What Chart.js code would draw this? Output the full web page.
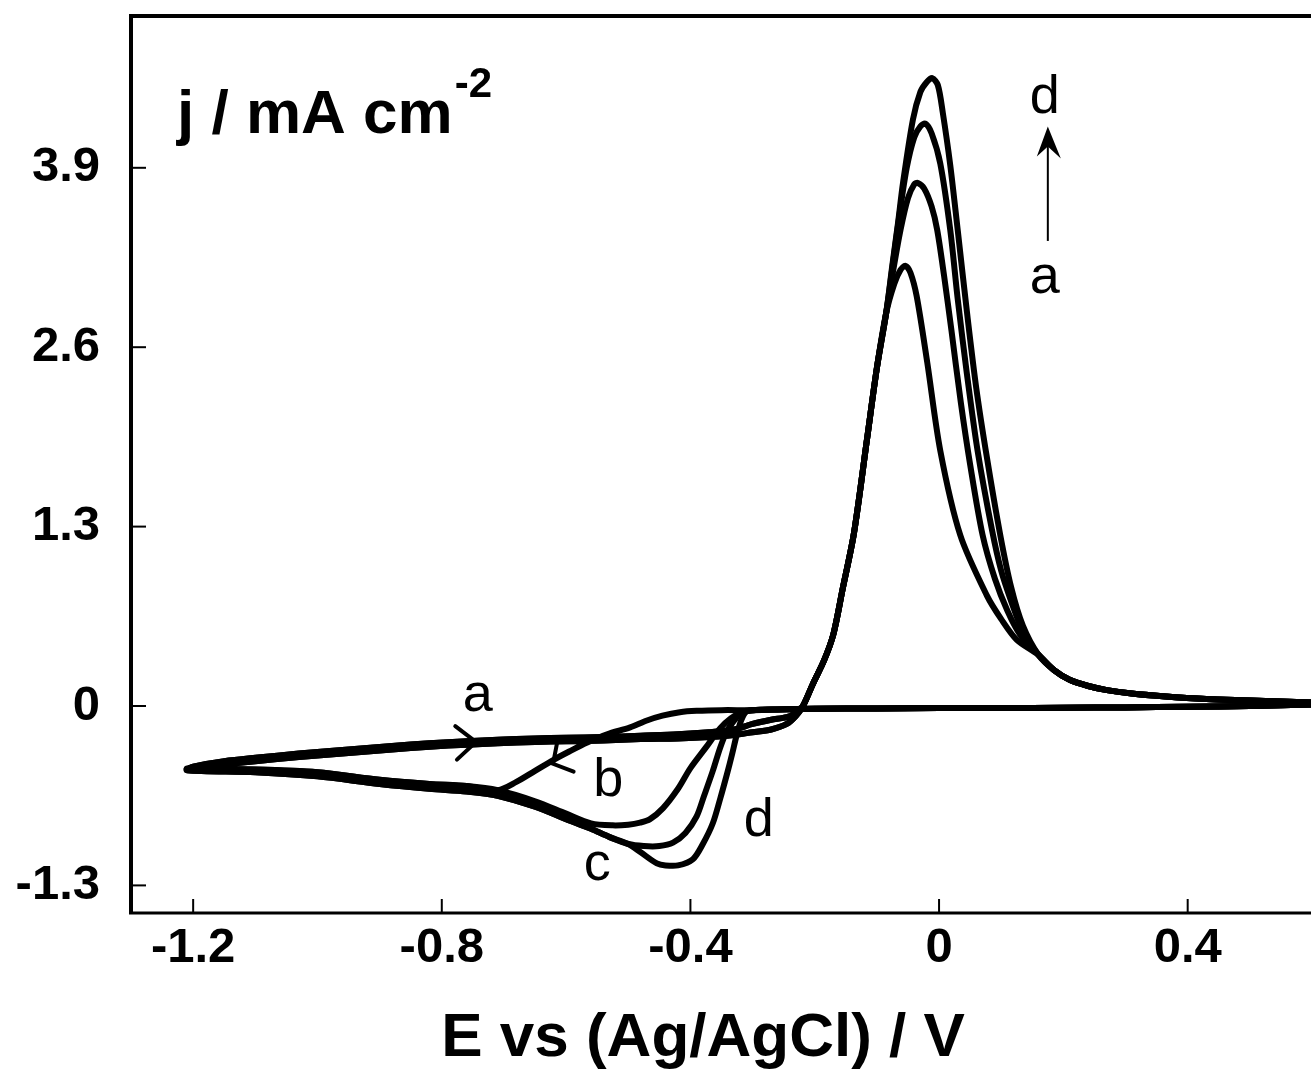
<!DOCTYPE html>
<html>
<head>
<meta charset="utf-8">
<title>Cyclic voltammograms</title>
<script src="https://cdn.jsdelivr.net/npm/chart.js@4.4.1/dist/chart.umd.min.js"></script>
<style>
  html, body { margin: 0; padding: 0; background: #fff; overflow: hidden; }
  canvas { display: block; }
</style>
</head>
<body>
<canvas id="cvChart" width="1320" height="1072"></canvas>
<script>
// axis ticks
const xTickValues = [-1.2, -0.8, -0.4, 0, 0.4];
const xTickLabels = ['-1.2', '-0.8', '-0.4', '0', '0.4'];
const yTickValues = [-1.3, 0, 1.3, 2.6, 3.9];
const yTickLabels = ['-1.3', '0', '1.3', '2.6', '3.9'];

// cathodic sweep from +0.6 V, shared by all cycles
const baseE = [0.6, 0.5, 0.4, 0.3, 0.2, 0.1, 0.0, -0.1, -0.2, -0.26, -0.3];
const baseJ = [0.01, 0.0, -0.005, -0.01, -0.012, -0.015, -0.015, -0.018, -0.02, -0.025, -0.03];

// cathodic branch of each cycle after the baseline
const cathAE = [-0.35, -0.39, -0.417, -0.445, -0.47, -0.497, -0.534, -0.566, -0.595, -0.62, -0.65, -0.68];
const cathAJ = [-0.03, -0.035, -0.045, -0.07, -0.105, -0.155, -0.205, -0.265, -0.33, -0.39, -0.47, -0.55];
const cathBE = [-0.32, -0.335, -0.352, -0.375, -0.40, -0.42, -0.444, -0.465, -0.481, -0.50, -0.525];
const cathBJ = [-0.05, -0.09, -0.16, -0.30, -0.45, -0.60, -0.74, -0.82, -0.845, -0.86, -0.865];
const cathCE = [-0.315, -0.325, -0.341, -0.352, -0.364, -0.378, -0.39, -0.408, -0.428, -0.45, -0.475];
const cathCJ = [-0.04, -0.08, -0.18, -0.30, -0.47, -0.65, -0.80, -0.92, -0.99, -1.015, -1.015];
const cathDE = [-0.31, -0.318, -0.325, -0.333, -0.341, -0.352, -0.364, -0.38, -0.396, -0.42, -0.44];
const cathDJ = [-0.04, -0.10, -0.20, -0.35, -0.49, -0.67, -0.85, -1.00, -1.11, -1.155, -1.155];

// diffusion tail of the cathodic sweep down to -1.2 V
const lowerE  = [-0.454, -0.48, -0.50, -0.53, -0.56, -0.60, -0.65, -0.71, -0.76, -0.82, -0.90, -1.00, -1.10, -1.21];
const lowerJ1 = [-1.10, -1.02, -0.96, -0.90, -0.85, -0.78, -0.69, -0.61, -0.58, -0.565, -0.535, -0.48, -0.46, -0.455];
const lowerJ2 = [-1.14, -1.06, -1.00, -0.95, -0.89, -0.82, -0.73, -0.65, -0.62, -0.60, -0.565, -0.51, -0.48, -0.465];

// anodic return sweep
const upperE  = [-1.2, -1.15, -1.1, -1.03, -0.95, -0.88, -0.82, -0.76, -0.71, -0.65, -0.6, -0.54, -0.48, -0.42, -0.37, -0.33];
const upperJ1 = [-0.45, -0.425, -0.40, -0.37, -0.34, -0.315, -0.295, -0.28, -0.27, -0.26, -0.255, -0.25, -0.24, -0.235, -0.225, -0.21];
const upperJ2 = [-0.44, -0.40, -0.375, -0.345, -0.315, -0.29, -0.27, -0.255, -0.245, -0.235, -0.23, -0.225, -0.215, -0.205, -0.19, -0.17];
const lensE  = [-0.30, -0.27, -0.245, -0.23, -0.219];
const lensJ1 = [-0.19, -0.17, -0.13, -0.07, 0.0];
const lensJ2 = [-0.13, -0.10, -0.08, -0.05, 0.0];

// stripping peak: shared rise, then one peak per cycle
const riseE = [-0.203, -0.185, -0.17, -0.155, -0.137, -0.116, -0.1, -0.085];
const riseJ = [0.16, 0.33, 0.52, 0.85, 1.25, 1.93, 2.45, 2.85];
const peakAE = [-0.072, -0.062, -0.054, -0.046, -0.036, -0.019, 0.002, 0.034, 0.077, 0.10, 0.125];
const peakAJ = [3.06, 3.16, 3.19, 3.14, 2.97, 2.49, 1.85, 1.24, 0.80, 0.63, 0.48];
const peakBE = [-0.074, -0.062, -0.05, -0.04, -0.034, -0.024, -0.012, -0.003, 0.008, 0.02, 0.035, 0.05, 0.07, 0.09, 0.11, 0.13];
const peakBJ = [3.15, 3.45, 3.68, 3.78, 3.79, 3.75, 3.62, 3.45, 3.12, 2.72, 2.2, 1.75, 1.24, 0.92, 0.69, 0.52];
const peakCE = [-0.075, -0.064, -0.052, -0.04, -0.03, -0.022, -0.012, 0.002, 0.018, 0.03, 0.045, 0.062, 0.085, 0.10, 0.116, 0.135];
const peakCJ = [3.18, 3.55, 3.9, 4.12, 4.2, 4.22, 4.15, 3.93, 3.45, 2.95, 2.4, 1.85, 1.28, 0.98, 0.76, 0.54];
const peakDE = [-0.075, -0.066, -0.058, -0.042, -0.03, -0.02, -0.011, -0.002, 0.006, 0.018, 0.03, 0.045, 0.06, 0.077, 0.098, 0.116, 0.135];
const peakDJ = [3.2, 3.5, 3.79, 4.25, 4.45, 4.52, 4.55, 4.5, 4.3, 3.92, 3.45, 2.85, 2.3, 1.8, 1.25, 0.86, 0.58];
const tailE = [0.16, 0.185, 0.21, 0.24, 0.27, 0.31, 0.36, 0.43, 0.5, 0.6];
const tailJ = [0.37, 0.26, 0.19, 0.145, 0.115, 0.09, 0.07, 0.05, 0.04, 0.025];

// curve letters and the a -> d arrow
const letterText = ['a', 'b', 'c', 'd', 'd', 'a'];
const letterE = [-0.742, -0.532, -0.550, -0.290, 0.170, 0.170];
const letterJ = [-0.036, -0.650, -1.264, -0.939, 4.296, 2.996];
const trendArrowE = 0.175;
const trendArrowJ = [3.37, 4.20];

const FONT = "'Liberation Sans', Arial, Helvetica, sans-serif";

function buildLoop(cathE, cathJ, lowJ, upJ, lensJ, peakE, peakJ) {
    let pts = [];
    let add = (E, J, keep) => E.forEach((e, i) => {
        if (!keep || keep(e)) pts.push({ x: e, y: J[i] });
    });
    add(baseE, baseJ);
    add(cathE, cathJ);
    let lastE = cathE[cathE.length - 1];
    add(lowerE, lowJ, e => e < lastE - 0.005);
    add(upperE, upJ);
    add(lensE, lensJ);
    add(riseE, riseJ);
    add(peakE, peakJ);
    add(tailE, tailJ);
    return pts;
}

const loops = [
    buildLoop(cathAE, cathAJ, lowerJ1, upperJ1, lensJ1, peakAE, peakAJ),
    buildLoop(cathBE, cathBJ, lowerJ1, upperJ1, lensJ1, peakBE, peakBJ),
    buildLoop(cathCE, cathCJ, lowerJ2, upperJ2, lensJ2, peakCE, peakCJ),
    buildLoop(cathDE, cathDJ, lowerJ2, upperJ2, lensJ2, peakDE, peakDJ)
];

// open arrowhead drawn back from the tip
function drawHead(ctx, tx, ty, angle, len, spread) {
    ctx.beginPath();
    ctx.moveTo(tx + len * Math.cos(angle + Math.PI - spread), ty + len * Math.sin(angle + Math.PI - spread));
    ctx.lineTo(tx, ty);
    ctx.lineTo(tx + len * Math.cos(angle + Math.PI + spread), ty + len * Math.sin(angle + Math.PI + spread));
    ctx.stroke();
}

const cvDecor = {
    id: 'cvDecor',
    afterDraw(chart) {
        const { ctx, chartArea: ca, scales } = chart;
        const sx = scales.x, sy = scales.y;
        ctx.save();
        ctx.strokeStyle = '#000';
        ctx.fillStyle = '#000';
        ctx.lineCap = 'butt';

        // frame (left, top, bottom)
        ctx.lineWidth = 4;
        ctx.beginPath();
        ctx.moveTo(ca.right + 20, ca.top);
        ctx.lineTo(ca.left, ca.top);
        ctx.lineTo(ca.left, ca.bottom);
        ctx.stroke();
        ctx.lineWidth = 3;
        ctx.beginPath();
        ctx.moveTo(ca.left - 2, ca.bottom);
        ctx.lineTo(ca.right + 20, ca.bottom);
        ctx.stroke();

        // inward tick marks
        ctx.lineWidth = 2;
        yTickValues.forEach(v => {
            let py = sy.getPixelForValue(v);
            ctx.beginPath(); ctx.moveTo(ca.left, py); ctx.lineTo(ca.left + 15, py); ctx.stroke();
        });
        xTickValues.forEach(v => {
            let px = sx.getPixelForValue(v);
            ctx.beginPath(); ctx.moveTo(px, ca.bottom); ctx.lineTo(px, ca.bottom - 14); ctx.stroke();
        });

        // sweep direction arrows
        ctx.lineWidth = 4;
        ctx.lineCap = 'round';
        drawHead(ctx, sx.getPixelForValue(-0.745), sy.getPixelForValue(-0.26), -0.05, 26, 0.7);
        drawHead(ctx, sx.getPixelForValue(-0.621), sy.getPixelForValue(-0.419), Math.atan2(47, -84), 22, 0.87);

        // a -> d trend arrow
        let ax = sx.getPixelForValue(trendArrowE);
        let ay0 = sy.getPixelForValue(trendArrowJ[0]);
        let ay1 = sy.getPixelForValue(trendArrowJ[1]);
        ctx.lineWidth = 2;
        ctx.lineCap = 'butt';
        ctx.beginPath(); ctx.moveTo(ax, ay0); ctx.lineTo(ax, ay1 + 18); ctx.stroke();
        ctx.beginPath();
        ctx.moveTo(ax, ay1);
        ctx.lineTo(ax - 11, ay1 + 30);
        ctx.lineTo(ax, ay1 + 20);
        ctx.lineTo(ax + 13, ay1 + 32);
        ctx.closePath();
        ctx.fill();

        // curve letters
        ctx.font = `54px ${FONT}`;
        ctx.textAlign = 'center';
        ctx.textBaseline = 'alphabetic';
        letterText.forEach((t, i) => {
            ctx.fillText(t, sx.getPixelForValue(letterE[i]), sy.getPixelForValue(letterJ[i]));
        });

        // current density label inside the plot
        ctx.textAlign = 'left';
        ctx.font = `bold 62px ${FONT}`;
        let unit = 'j / mA cm';
        let ux = ca.left + 46, uy = ca.top + 117;
        ctx.fillText(unit, ux, uy);
        let uw = ctx.measureText(unit).width;
        ctx.font = `bold 42px ${FONT}`;
        ctx.fillText('-2', ux + uw + 2, uy - 36);

        // potential axis title
        ctx.textAlign = 'center';
        ctx.font = `bold 62px ${FONT}`;
        ctx.fillText('E vs (Ag/AgCl) / V', 703, 1056);
        ctx.restore();
    }
};

const cvChart = new Chart(document.getElementById('cvChart').getContext('2d'), {
    type: 'scatter',
    data: {
        datasets: loops.map((pts, i) => ({
            label: 'abcd'[i],
            data: pts,
            showLine: true,
            borderColor: '#000',
            borderWidth: 6,
            pointRadius: 0,
            tension: 0.3,
            borderJoinStyle: 'round',
            borderCapStyle: 'round',
            fill: false
        }))
    },
    options: {
        responsive: false,
        animation: false,
        layout: { padding: { top: 16, right: 8, left: 0, bottom: 0 } },
        plugins: {
            legend: { display: false },
            tooltip: { enabled: false }
        },
        scales: {
            x: {
                type: 'linear',
                min: -1.3,
                max: 0.6,
                afterBuildTicks: s => { s.ticks = xTickValues.map(v => ({ value: v })); },
                afterFit: s => { s.height = 159; s.paddingLeft = 0; s.paddingRight = 0; },
                grid: { display: false, drawTicks: false },
                border: { display: false },
                ticks: {
                    color: '#000',
                    padding: 6,
                    maxRotation: 0,
                    autoSkip: false,
                    font: { family: FONT, size: 49, weight: 'bold' },
                    callback: v => xTickLabels[xTickValues.indexOf(v)]
                }
            },
            y: {
                type: 'linear',
                min: -1.5,
                max: 5.0,
                afterBuildTicks: s => { s.ticks = yTickValues.map(v => ({ value: v })); },
                afterFit: s => { s.width = 131; s.paddingTop = 0; s.paddingBottom = 0; },
                grid: { display: false, drawTicks: false },
                border: { display: false },
                ticks: {
                    color: '#000',
                    padding: 31,
                    autoSkip: false,
                    font: { family: FONT, size: 49, weight: 'bold' },
                    callback: v => yTickLabels[yTickValues.indexOf(v)]
                }
            }
        }
    },
    plugins: [cvDecor]
});
</script>
</body>
</html>
